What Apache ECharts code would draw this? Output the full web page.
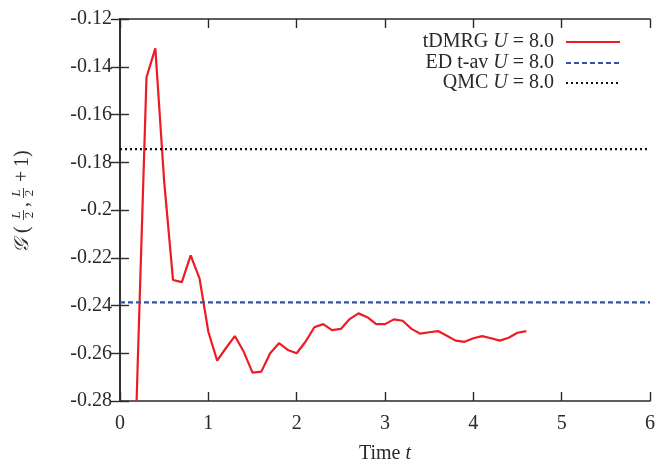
<!DOCTYPE html>
<html>
<head>
<meta charset="utf-8">
<script src="https://cdn.jsdelivr.net/npm/echarts@6/dist/echarts.min.js"></script>
<style>
  html, body { margin: 0; padding: 0; background: #fff; }
  #chart { width: 657px; height: 461px; }
</style>
</head>
<body>
<div id="chart"></div>
<script>
// Nearest-neighbour correlator after the quench, U = 8.0
const times = [0.1, 0.2, 0.3, 0.4, 0.5, 0.6, 0.7, 0.8, 0.9, 1.0,
  1.1, 1.2, 1.3, 1.4, 1.5, 1.6, 1.7, 1.8, 1.9, 2.0,
  2.1, 2.2, 2.3, 2.4, 2.5, 2.6, 2.7, 2.8, 2.9, 3.0,
  3.1, 3.2, 3.3, 3.4, 3.5, 3.6, 3.7, 3.8, 3.9, 4.0,
  4.1, 4.2, 4.3, 4.4, 4.5, 4.6];
const tdmrg = [-0.390, -0.265, -0.1444, -0.1323, -0.1880, -0.2293, -0.2302, -0.2190, -0.2286, -0.2510,
  -0.2631, -0.2578, -0.2528, -0.2593, -0.2681, -0.2677, -0.2600, -0.2558, -0.2586, -0.2600,
  -0.2552, -0.2491, -0.2478, -0.2503, -0.2498, -0.2457, -0.2433, -0.2449, -0.2478, -0.2478,
  -0.2458, -0.2464, -0.2498, -0.2518, -0.2512, -0.2507, -0.2527, -0.2547, -0.2552, -0.2537,
  -0.2528, -0.2537, -0.2547, -0.2535, -0.2514, -0.2507];
// Reference levels
const edTimeAverage = -0.2387;
const qmcValue = -0.1745;
const levelSpan = [0, 6];

const xTicks = { min: 0, max: 6, interval: 1 };
const yTicks = { min: -0.28, max: -0.12, interval: 0.02 };

const FONT = '"Liberation Serif", "DejaVu Serif", serif';
const INK = '#2a2a2a';
const FS = 20;

function fmtNum(v) {
  return String(+v.toFixed(2));
}

const rich = {
  n: { fontFamily: FONT, fontSize: FS, color: INK },
  i: { fontFamily: FONT, fontSize: FS, color: INK, fontStyle: 'italic' },
  pad: { width: 7 }
};

function legendBox(name, top) {
  return {
    data: [name],
    right: 36,
    top: top,
    orient: 'vertical',
    align: 'right',
    itemWidth: 54,
    itemHeight: 14,
    padding: 0,
    selectedMode: false,
    itemStyle: { opacity: 0 },
    textStyle: { rich: rich },
    formatter: function (n) {
      const head = n.split(' U')[0];
      return '{n|' + head + ' }{i|U}{n| = 8.0}{pad|}';
    }
  };
}

const axisLine = { show: true, lineStyle: { color: INK, width: 1.6 } };
const axisTickIn = { show: true, inside: true, length: 9, lineStyle: { color: INK, width: 1.4 } };

const chart = echarts.init(document.getElementById('chart'), null, { renderer: 'canvas' });

const titleFont = FS + 'px ' + FONT;
const fracFont = '13px ' + FONT;

chart.setOption({
  animation: false,
  backgroundColor: '#fff',
  grid: { left: 120, right: 7, top: 19, bottom: 60, containLabel: false, outerBoundsMode: 'none' },
  legend: [
    legendBox('tDMRG U = 8.0', 32),
    legendBox('ED t-av U = 8.0', 53),
    legendBox('QMC U = 8.0', 73)
  ],
  xAxis: [{
    type: 'value', min: xTicks.min, max: xTicks.max, interval: xTicks.interval,
    axisLine: axisLine, axisTick: axisTickIn, splitLine: { show: false },
    axisLabel: { fontFamily: FONT, fontSize: FS, color: INK, margin: 13, formatter: fmtNum },
    name: '{n|Time }{i|t}', nameLocation: 'middle', nameGap: 43,
    nameTextStyle: { rich: rich }
  }, {
    type: 'value', position: 'top', min: xTicks.min, max: xTicks.max, interval: xTicks.interval,
    axisLine: axisLine, axisTick: axisTickIn, axisLabel: { show: false }, splitLine: { show: false }
  }],
  yAxis: [{
    type: 'value', min: yTicks.min, max: yTicks.max, interval: yTicks.interval,
    axisLine: axisLine, axisTick: axisTickIn, splitLine: { show: false },
    axisLabel: { fontFamily: FONT, fontSize: FS, color: INK, margin: 8, formatter: fmtNum }
  }, {
    type: 'value', position: 'right', min: yTicks.min, max: yTicks.max, interval: yTicks.interval,
    axisLine: axisLine, axisTick: axisTickIn, axisLabel: { show: false }, splitLine: { show: false }
  }],
  graphic: [{
    // rotated y-axis title: G(L/2, L/2 + 1)
    type: 'group', x: 23, y: 253, rotation: Math.PI / 2,
    children: [
      { type: 'text', x: 0, y: 0, style: { text: '\uD835\uDCA2', font: 'italic ' + titleFont, fill: INK, verticalAlign: 'middle' } },
      { type: 'text', x: 20, y: 0, style: { text: '(', font: titleFont, fill: INK, verticalAlign: 'middle' } },
      { type: 'text', x: 38, y: -6, style: { text: 'L', font: 'italic ' + fracFont, fill: INK, align: 'center', verticalAlign: 'middle' } },
      { type: 'line', shape: { x1: 33, y1: 0.5, x2: 43, y2: 0.5 }, style: { stroke: INK, lineWidth: 0.9 } },
      { type: 'text', x: 38, y: 7, style: { text: '2', font: fracFont, fill: INK, align: 'center', verticalAlign: 'middle' } },
      { type: 'text', x: 46, y: 0, style: { text: ',', font: titleFont, fill: INK, verticalAlign: 'middle' } },
      { type: 'text', x: 60, y: -6, style: { text: 'L', font: 'italic ' + fracFont, fill: INK, align: 'center', verticalAlign: 'middle' } },
      { type: 'line', shape: { x1: 55, y1: 0.5, x2: 65, y2: 0.5 }, style: { stroke: INK, lineWidth: 0.9 } },
      { type: 'text', x: 60, y: 7, style: { text: '2', font: fracFont, fill: INK, align: 'center', verticalAlign: 'middle' } },
      { type: 'text', x: 71, y: 0, style: { text: '+', font: titleFont, fill: INK, verticalAlign: 'middle' } },
      { type: 'text', x: 86, y: 0, style: { text: '1', font: titleFont, fill: INK, verticalAlign: 'middle' } },
      { type: 'text', x: 96, y: 0, style: { text: ')', font: titleFont, fill: INK, verticalAlign: 'middle' } }
    ]
  }],
  series: [{
    name: 'tDMRG U = 8.0', type: 'line', symbol: 'none', clip: true,
    data: times.map((t, k) => [t, tdmrg[k]]),
    lineStyle: { color: '#ec1c24', width: 2.2 },
    itemStyle: { color: '#ec1c24' }
  }, {
    name: 'ED t-av U = 8.0', type: 'line', symbol: 'none',
    data: levelSpan.map(t => [t, edTimeAverage]),
    lineStyle: { color: '#3553a6', width: 2.4, type: [5, 3] },
    itemStyle: { color: '#3553a6' }
  }, {
    name: 'QMC U = 8.0', type: 'line', symbol: 'none',
    data: levelSpan.map(t => [t, qmcValue]),
    lineStyle: { color: '#111', width: 2.4, type: [2, 3] },
    itemStyle: { color: '#111' }
  }]
});
</script>
</body>
</html>
